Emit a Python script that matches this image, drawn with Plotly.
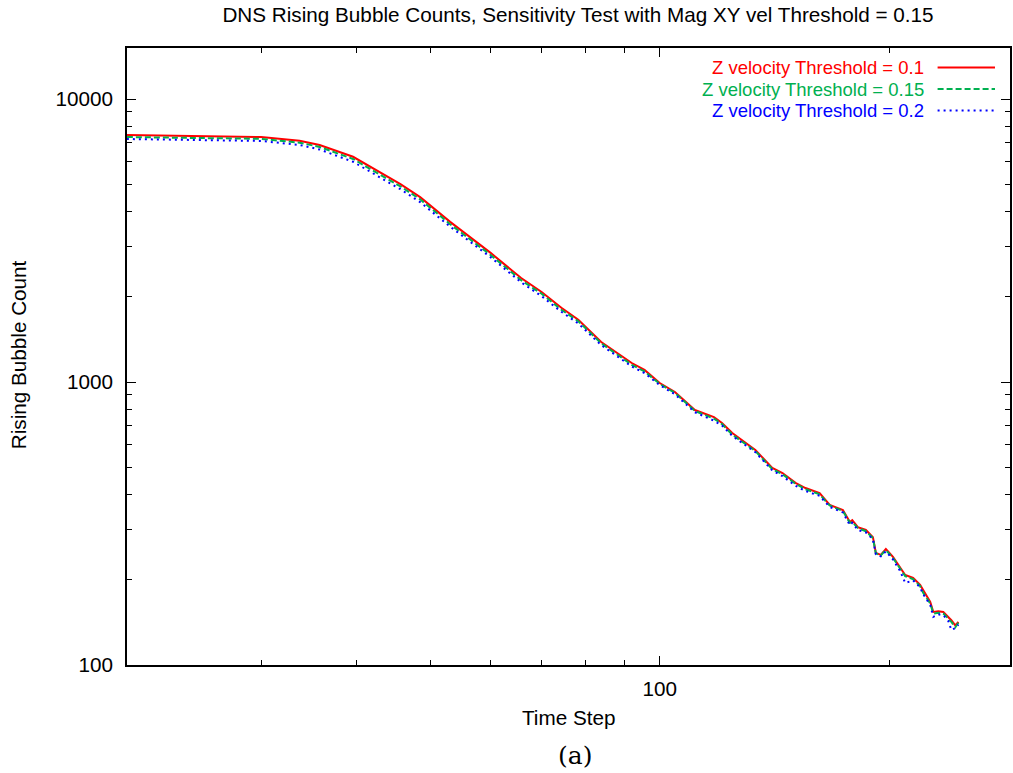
import plotly.graph_objects as go

# Time steps (shared by all series)
time_step = [20, 25, 30, 33.7, 35.8, 39.6, 43.9, 45.7, 48.5, 53.1, 60, 65.8, 70, 74.3, 78.2,
             83.8, 91.9, 95.5, 100, 104.7, 111.2, 117.8, 120.7, 124.5, 133.5, 140.5, 144.9,
             150.7, 155.3, 162.1, 167.1, 173.9, 177.6, 178.9, 181.9, 186.4, 190.4, 192.1,
             195.0, 198.0, 202.3, 206.7, 209.9, 215.0, 219.6, 221.6, 226.4, 228.5, 232.0,
             235.5, 239.1, 241.3, 244.2, 246.5]

count_z010 = [7460, 7400, 7340, 7120, 6880, 6250, 5300, 5000, 4500, 3680, 2860, 2330, 2080,
              1830, 1660, 1385, 1167, 1103, 992, 922, 796, 752, 716, 660, 575, 497, 477, 440,
              422, 405, 368, 353, 320, 325, 307, 300, 283, 249, 245, 257, 241, 220, 208, 203,
              192, 184, 167, 154, 155, 154, 148, 144, 138, 142]

count_z015 = [7340, 7290, 7230, 7010, 6770, 6140, 5210, 4910, 4420, 3610, 2810, 2290, 2050,
              1800, 1640, 1370, 1150, 1090, 985, 915, 790, 742, 710, 652, 570, 492, 472, 437,
              418, 401, 366, 350, 318, 320, 305, 297, 281, 248, 244, 255, 239, 218, 206, 201,
              190, 180, 165, 152, 153, 152, 146, 142, 136, 141]

count_z020 = [7220, 7170, 7110, 6880, 6630, 6000, 5090, 4800, 4320, 3540, 2760, 2250, 2010,
              1770, 1610, 1350, 1135, 1075, 975, 905, 782, 730, 702, 645, 565, 487, 465, 430,
              412, 396, 362, 346, 312, 318, 300, 294, 278, 246, 242, 252, 236, 215, 195, 199,
              188, 178, 163, 148, 151, 150, 143, 133, 135, 139]

series_names = ["Z velocity Threshold = 0.1", "Z velocity Threshold = 0.15",
                "Z velocity Threshold = 0.2"]
series_colors = ["#ff0000", "#00b050", "#0000ff"]
series_dash = ["solid", "6px,3px", "2px,4px"]

y_tickvals = [100, 1000, 10000]
y_ticktext = ["100", "1000", "10000"]
x_tickvals = [100]
x_ticktext = ["100"]

FONT = "Liberation Sans, Arial, sans-serif"
FS = 20.7
LEG_FS = 18.5

fig = go.Figure()
for vals, name, col, dash in zip([count_z010, count_z015, count_z020], series_names,
                                 series_colors, series_dash):
    fig.add_trace(go.Scatter(x=time_step, y=vals, mode="lines", name=name,
                             line=dict(color=col, width=2, dash=dash), showlegend=False))

# Legend drawn gnuplot-style: right-aligned coloured text with sample line on the right
leg_y = [0.9684, 0.9335, 0.8987]
annotations = []
shapes = []
for name, col, dash, yy in zip(series_names, series_colors, series_dash, leg_y):
    annotations.append(dict(xref="paper", yref="paper", x=0.905, y=yy, text=name,
                            showarrow=False, xanchor="right", yanchor="middle",
                            font=dict(family=FONT, size=LEG_FS, color=col)))
    shapes.append(dict(type="line", xref="paper", yref="paper", x0=0.918, x1=0.983,
                       y0=yy, y1=yy, line=dict(color=col, width=2, dash=dash)))

annotations += [
    dict(xref="paper", yref="paper", x=0.5, y=-0.0843, text="Time Step", showarrow=False,
         xanchor="center", yanchor="middle", font=dict(family=FONT, size=FS, color="black")),
    dict(xref="paper", yref="paper", x=-0.1232, y=0.5024, text="Rising Bubble Count",
         showarrow=False, textangle=-90, xanchor="center", yanchor="middle",
         font=dict(family=FONT, size=FS, color="black")),
    dict(xref="paper", yref="paper", x=0.507, y=-0.1459, text="(a)", showarrow=False,
         xanchor="center", yanchor="middle",
         font=dict(family="DejaVu Serif, Liberation Serif, serif", size=25, color="black")),
]

axis_common = dict(type="log", showgrid=False, zeroline=False, showline=True, linecolor="black",
                   linewidth=1.5, mirror="allticks", ticks="inside", ticklen=9,
                   tickwidth=1.2, tickcolor="black",
                   tickfont=dict(family=FONT, size=FS, color="black"),
                   minor=dict(ticks="inside", ticklen=5, tickwidth=1.2, tickcolor="black",
                              dtick="D1", showgrid=False))

fig.update_layout(
    width=1013, height=773,
    margin=dict(l=127, r=1, t=48, b=108),
    paper_bgcolor="white", plot_bgcolor="white",
    title=dict(text="DNS Rising Bubble Counts, Sensitivity Test with Mag XY vel Threshold = 0.15",
               x=0.5706, xanchor="center", y=0.9806, yanchor="middle",
               font=dict(family=FONT, size=FS, color="black")),
    annotations=annotations, shapes=shapes,
)
fig.update_xaxes(**axis_common, range=[1.3012, 2.4595], tickvals=x_tickvals,
                 ticktext=x_ticktext, ticklabelstandoff=4)
fig.update_yaxes(**axis_common, range=[2.0, 4.1802], tickvals=y_tickvals,
                 ticktext=y_ticktext, ticklabelstandoff=8)

fig.write_html("out.html")
